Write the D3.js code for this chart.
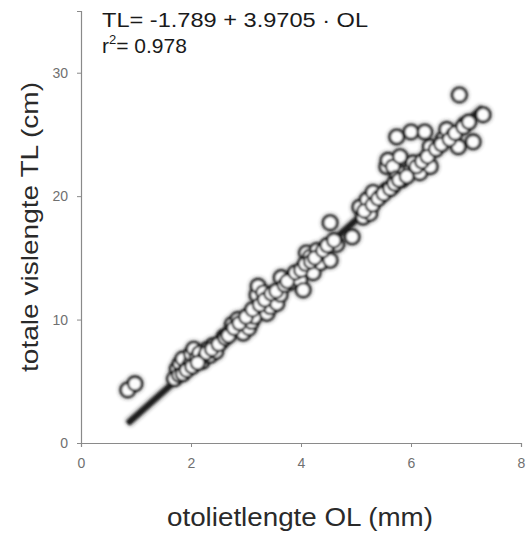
<!DOCTYPE html>
<html>
<head>
<meta charset="utf-8">
<script src="https://cdn.jsdelivr.net/npm/d3@7"></script>
<style>
  body { margin: 0; background: #fff; }
  text { font-family: "Liberation Sans", Arial, sans-serif; }
</style>
</head>
<body>
<svg id="chart" width="532" height="541"></svg>
<script>
// otolith length (mm) vs total length (cm)
var otolietLengte = [
    0.85, 0.98,
    1.75, 1.8, 1.85, 1.9, 1.95, 2.0, 2.0, 2.05, 2.1, 2.15, 2.2, 2.25, 2.3, 2.35, 2.4, 2.45,
    2.55, 2.6, 2.7, 2.75, 2.8, 2.85, 2.9, 2.95, 3.05, 3.1, 3.15,
    3.2, 3.22, 3.31, 3.38, 3.44, 3.5, 3.56, 3.62, 3.64,
    3.8, 3.86, 3.98, 4.04, 4.1, 4.16, 4.22, 4.29, 4.35, 4.53, 4.65, 4.53, 4.93,
    5.07, 5.13, 5.2, 5.25, 5.31, 5.44, 5.56,
    5.56, 5.58, 5.67, 5.67, 5.74, 5.8, 5.83, 5.89, 5.98, 6.04,
    5.74, 6.0, 6.25, 6.35, 6.16, 6.35,
    6.58, 6.65, 6.77, 6.86, 6.98, 7.13, 7.31, 6.88,
    1.7, 1.78, 1.85, 1.92, 2.02, 2.12, 2.28, 2.38, 2.5, 2.62, 2.68, 2.78, 2.88,
    3.0, 3.12, 3.25, 3.34, 3.46, 3.55, 3.7, 3.75, 3.9, 4.0, 4.08, 4.18, 4.25,
    4.4, 4.48, 4.6, 5.15, 5.3, 5.4, 5.5, 5.62, 5.7, 5.78, 5.92, 6.1, 6.2, 6.3,
    6.45, 6.55, 6.7, 6.8, 6.95, 7.05
];
var totaleLengte = [
    4.3, 4.8,
    6.0, 6.4, 6.8, 5.9, 6.2, 6.6, 7.2, 7.6, 6.9, 7.3, 6.6, 7.0, 7.6, 7.1, 7.9, 7.4,
    8.2, 8.6, 8.9, 9.6, 9.2, 10.0, 9.4, 8.9, 9.3, 9.8, 10.2,
    12.0, 12.7, 12.2, 10.5, 11.0, 12.0, 11.3, 12.0, 13.4,
    13.0, 13.5, 13.2, 12.4, 15.4, 15.1, 13.8, 15.6, 14.6, 14.8, 16.1, 17.85, 16.7,
    19.1, 18.3, 19.7, 18.6, 20.3, 20.0, 20.5,
    22.4, 22.9, 22.4, 20.8, 21.5, 23.2, 21.3, 21.9, 22.0, 22.7,
    24.8, 25.2, 25.2, 24.0, 21.9, 22.4,
    24.6, 25.4, 25.0, 24.0, 25.8, 24.4, 26.6, 28.2,
    5.2, 5.5, 5.6, 5.9, 6.2, 6.5, 7.3, 7.6, 8.0, 8.5, 8.7, 9.3, 9.7,
    10.2, 10.8, 11.2, 11.6, 12.1, 12.3, 12.8, 13.1, 13.8, 14.0, 14.5, 14.7, 15.0,
    15.6, 16.0, 16.4, 18.8, 19.3, 19.8, 20.2, 20.6, 21.0, 21.3, 21.6, 22.4, 22.8, 23.2,
    23.8, 24.2, 24.6, 25.1, 25.6, 26.0
];
var intercept = -1.789;
var slope = 3.9705;
var fitRange = [0.85, 7.3];
var xTicks = [0, 2, 4, 6, 8];
var yTicks = [0, 10, 20, 30];

var svg = d3.select("#chart");

var x = d3.scaleLinear().domain([0, 8]).range([81, 521]);
var y = d3.scaleLinear().domain([0, 35]).range([443, 11]);

var axisColor = "#8a8a8a";

// the original is a scanned print: soft edges and dark smear round the marks
var defs = svg.append("defs");
defs.append("filter").attr("id", "scan")
    .append("feGaussianBlur").attr("stdDeviation", 0.9);
defs.append("filter").attr("id", "smear")
    .attr("x", "-20%").attr("y", "-20%").attr("width", "140%").attr("height", "140%")
    .append("feGaussianBlur").attr("stdDeviation", 2.2);

var xAxis = svg.append("g")
    .attr("transform", "translate(0," + y(0) + ")")
    .call(d3.axisBottom(x).tickValues(xTicks).tickSize(4).tickPadding(11).tickFormat(d3.format("d")));
var yAxis = svg.append("g")
    .attr("transform", "translate(" + x(0) + ",0)")
    .call(d3.axisLeft(y).tickValues(yTicks).tickSize(4).tickPadding(9).tickFormat(d3.format("d")));

[xAxis, yAxis].forEach(function(g) {
    g.attr("font-size", 14).attr("font-family", "Liberation Sans, Arial, sans-serif");
    g.select(".domain").attr("stroke", axisColor).attr("stroke-width", 1.2);
    g.selectAll(".tick line").attr("stroke", axisColor);
    g.selectAll(".tick text").attr("fill", "#707070");
});

var points = otolietLengte.map(function(d, i) { return [d, totaleLengte[i]]; });

var smear = svg.append("g").attr("filter", "url(#smear)").attr("opacity", 0.75);
smear.append("line")
    .attr("x1", x(fitRange[0]))
    .attr("y1", y(intercept + slope * fitRange[0]))
    .attr("x2", x(fitRange[1]))
    .attr("y2", y(intercept + slope * fitRange[1]))
    .attr("stroke", "#222")
    .attr("stroke-width", 7);
smear.selectAll("circle")
    .data(points)
    .enter().append("circle")
    .attr("cx", function(d) { return x(d[0]); })
    .attr("cy", function(d) { return y(d[1]); })
    .attr("r", 8.5)
    .attr("fill", "#2a2a2a");

var marks = svg.append("g").attr("filter", "url(#scan)");

// regression line
marks.append("line")
    .attr("x1", x(fitRange[0]))
    .attr("y1", y(intercept + slope * fitRange[0]))
    .attr("x2", x(fitRange[1]))
    .attr("y2", y(intercept + slope * fitRange[1]))
    .attr("stroke", "#1e1e1e")
    .attr("stroke-width", 5);

marks.selectAll("circle")
    .data(points)
    .enter().append("circle")
    .attr("cx", function(d) { return x(d[0]); })
    .attr("cy", function(d) { return y(d[1]); })
    .attr("r", 6.8)
    .attr("fill", "#fdfdfd")
    .attr("stroke", "#1c1c1c")
    .attr("stroke-width", 2.4);

// equation text
svg.append("text")
    .attr("x", 102)
    .attr("y", 27)
    .attr("fill", "#1a1a1a")
    .attr("textLength", 266)
    .attr("lengthAdjust", "spacingAndGlyphs")
    .style("font-size", "20px")
    .text("TL= -1.789 + 3.9705 \u00b7 OL");

var r2 = svg.append("text")
    .attr("x", 102)
    .attr("y", 53)
    .attr("fill", "#1a1a1a")
    .style("font-size", "21px");
r2.append("tspan").text("r");
r2.append("tspan").attr("dy", -9).style("font-size", "13px").text("2");
r2.append("tspan").attr("dy", 9).text("= 0.978");

// axis titles
svg.append("text")
    .attr("x", 300)
    .attr("y", 526)
    .attr("text-anchor", "middle")
    .attr("fill", "#2a2a2a")
    .attr("textLength", 266)
    .attr("lengthAdjust", "spacingAndGlyphs")
    .style("font-size", "25px")
    .text("otolietlengte OL (mm)");

svg.append("text")
    .attr("transform", "translate(38,227) rotate(-90)")
    .attr("text-anchor", "middle")
    .attr("fill", "#2a2a2a")
    .attr("textLength", 290)
    .attr("lengthAdjust", "spacingAndGlyphs")
    .style("font-size", "24px")
    .text("totale vislengte TL (cm)");
</script>
</body>
</html>
